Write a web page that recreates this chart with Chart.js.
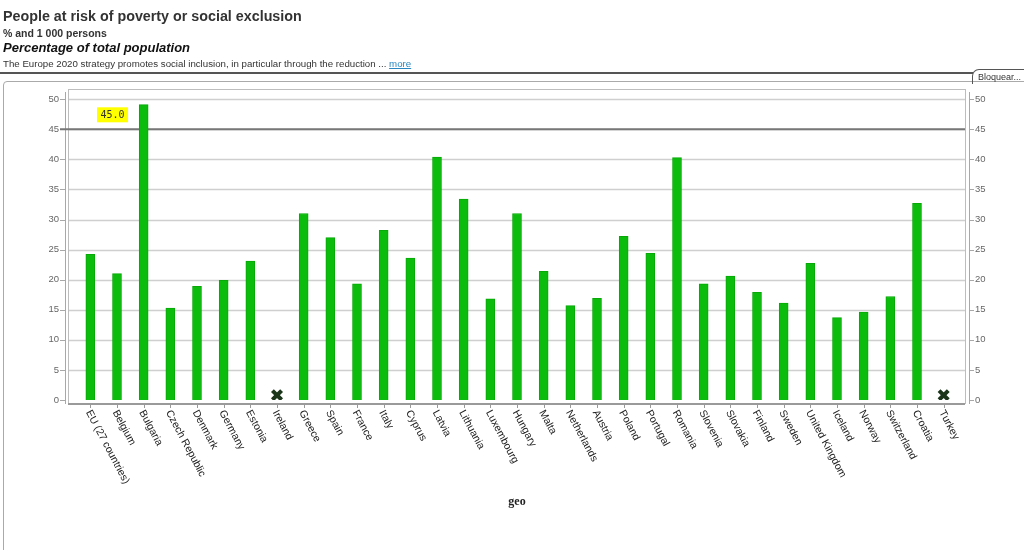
<!DOCTYPE html>
<html>
<head>
<meta charset="utf-8">
<title>People at risk of poverty or social exclusion</title>
<script src="https://cdn.jsdelivr.net/npm/chart.js@4/dist/chart.umd.min.js"></script>
<style>
  body { margin: 0; background: #fff; font-family: "Liberation Sans", Arial, sans-serif; color: #333; }
  #wrap { position: relative; width: 1024px; height: 550px; overflow: hidden; }
  #myChart { position: absolute; left: 0; top: 0; }
  .hd { position: absolute; left: 3px; white-space: nowrap; }
  #t1 { top: 8px; font-size: 14.3px; font-weight: bold; }
  #t2 { top: 27px; font-size: 10.5px; font-weight: bold; }
  #t3 { top: 40px; font-size: 13px; font-weight: bold; font-style: italic; color: #111; }
  #t4 { top: 58px; font-size: 9.7px; color: #333; }
  #t4 a { color: #2a86c0; text-decoration: underline; }
  #rule { position: absolute; left: 0; top: 72px; width: 973px; height: 2px; background: #555; }
  #tab { position: absolute; left: 972px; top: 69px; width: 60px; height: 14px; border: 1px solid #555;
         border-bottom: none; border-top-left-radius: 7px; font-size: 9px; padding-left: 5px; line-height: 14px; }
  #frame { position: absolute; left: 3px; top: 81px; width: 1040px; height: 500px; border: 1px solid #aaa; border-radius: 4px; }
</style>
</head>
<body>
<div id="wrap">
  <div id="frame"></div>
  <canvas id="myChart" width="1024" height="550"></canvas>
  <div class="hd" id="t1">People at risk of poverty or social exclusion</div>
  <div class="hd" id="t2">% and 1 000 persons</div>
  <div class="hd" id="t3">Percentage of total population</div>
  <div class="hd" id="t4">The Europe 2020 strategy promotes social inclusion, in particular through the reduction ... <a href="#">more</a></div>
  <div id="rule"></div>
  <div id="tab">Bloquear...</div>
</div>
<script>
const categories = ['EU (27 countries)', 'Belgium', 'Bulgaria', 'Czech Republic', 'Denmark', 'Germany',
  'Estonia', 'Ireland', 'Greece', 'Spain', 'France', 'Italy', 'Cyprus', 'Latvia', 'Lithuania',
  'Luxembourg', 'Hungary', 'Malta', 'Netherlands', 'Austria', 'Poland', 'Portugal', 'Romania',
  'Slovenia', 'Slovakia', 'Finland', 'Sweden', 'United Kingdom', 'Iceland', 'Norway',
  'Switzerland', 'Croatia', 'Turkey'];
// null = no data (drawn as a cross on the axis)
const values = [24.2, 21.0, 49.1, 15.3, 18.9, 19.9, 23.1, null, 31.0, 27.0, 19.3, 28.2, 23.6, 40.4,
  33.4, 16.8, 31.0, 21.4, 15.7, 16.9, 27.2, 24.4, 40.3, 19.3, 20.6, 17.9, 16.1, 22.7, 13.7, 14.6,
  17.2, 32.7, null];
const yTicks = [0, 5, 10, 15, 20, 25, 30, 35, 40, 45, 50];
const targetValue = 45;
const targetLabel = '45.0';
const yMax = 51.7;
const noDataMark = 0.8;

const noData = values.map(v => v === null ? noDataMark : null);

// grid, frame, target line and rotated labels
const framePlugin = {
  id: 'frame',
  beforeDatasetsDraw(chart) {
    const {ctx, chartArea: a, scales} = chart;
    const y = scales.y, x = scales.x;
    const boxL = a.left - 9, boxR = a.right + 8;
    const axL = a.left - 12, axR = a.right + 12;
    const bottom = a.bottom + 3;
    ctx.save();
    // gridlines
    ctx.strokeStyle = '#cfcfcf';
    ctx.lineWidth = 1.5;
    yTicks.forEach(v => {
      const py = Math.round(y.getPixelForValue(v)) + 0.5;
      if (v === 0) return;
      ctx.beginPath(); ctx.moveTo(boxL, py); ctx.lineTo(boxR, py); ctx.stroke();
    });
    // plot box
    ctx.strokeStyle = '#bdbdbd';
    ctx.lineWidth = 1;
    ctx.strokeRect(boxL + 0.5, a.top + 0.5, boxR - boxL, bottom - a.top);
    // axes lines + ticks
    ctx.strokeStyle = '#a8a8a8';
    ctx.beginPath();
    ctx.moveTo(axL + 0.5, a.top + 3); ctx.lineTo(axL + 0.5, bottom + 1);
    ctx.moveTo(axR + 0.5, a.top + 3); ctx.lineTo(axR + 0.5, bottom + 1);
    yTicks.forEach(v => {
      const py = Math.round(y.getPixelForValue(v)) + 0.5;
      ctx.moveTo(axL - 5, py); ctx.lineTo(axL, py);
      ctx.moveTo(axR + 1, py); ctx.lineTo(axR + 5, py);
    });
    ctx.stroke();
    ctx.strokeStyle = '#9a9a9a';
    ctx.lineWidth = 2;
    ctx.beginPath(); ctx.moveTo(boxL, bottom + 1); ctx.lineTo(boxR, bottom + 1); ctx.stroke();
    ctx.lineWidth = 1;
    ctx.beginPath();
    categories.forEach((c, i) => {
      const px = Math.round(x.getPixelForTick(i)) + 0.5;
      ctx.moveTo(px, bottom + 2); ctx.lineTo(px, bottom + 5);
    });
    ctx.stroke();
    // target line
    const ty = y.getPixelForValue(targetValue);
    ctx.strokeStyle = '#777';
    ctx.lineWidth = 2;
    ctx.beginPath(); ctx.moveTo(axL - 5, ty); ctx.lineTo(boxR, ty); ctx.stroke();
    ctx.fillStyle = '#ffff00';
    ctx.fillRect(a.left + 20, ty - 22, 31, 15);
    ctx.fillStyle = '#333';
    ctx.font = '10px "DejaVu Sans Mono", monospace';
    ctx.textAlign = 'center';
    ctx.textBaseline = 'middle';
    ctx.fillText(targetLabel, a.left + 35.5, ty - 14);
    ctx.restore();
  },
  afterDraw(chart) {
    const {ctx, chartArea: a, scales} = chart;
    ctx.save();
    ctx.fillStyle = '#222';
    ctx.font = '10.5px "Liberation Sans", Arial, sans-serif';
    ctx.textAlign = 'left';
    ctx.textBaseline = 'middle';
    categories.forEach((c, i) => {
      const px = scales.x.getPixelForTick(i);
      ctx.save();
      ctx.translate(px - 2, a.bottom + 11);
      ctx.rotate(62 * Math.PI / 180);
      ctx.fillText(c, 0, 0);
      ctx.restore();
    });
    ctx.font = 'bold 12px "Liberation Serif", serif';
    ctx.textAlign = 'center';
    ctx.fillText('geo', (a.left + a.right) / 2, 502);
    ctx.restore();
  }
};

let myChart;
const setup = () => {
  const ctxt = document.getElementById('myChart').getContext('2d');
  const tickFont = {family: '"Liberation Sans", Arial, sans-serif', size: 9.5};
  myChart = new Chart(ctxt, {
    type: 'bar',
    data: {
      labels: categories,
      datasets: [{
        label: 'Percentage of total population',
        data: values,
        backgroundColor: '#0cbc0c',
        borderColor: '#07a807',
        borderWidth: 1,
        barThickness: 9,
        order: 2
      }, {
        type: 'line',
        label: 'no data',
        data: noData,
        showLine: false,
        pointStyle: 'crossRot',
        pointRadius: 6.5,
        pointBorderWidth: 4,
        pointBorderColor: '#1a351a',
        order: 1
      }]
    },
    options: {
      responsive: false,
      animation: false,
      devicePixelRatio: 1,
      layout: {padding: {top: 89, left: 0, right: 0, bottom: 0}},
      plugins: {legend: {display: false}, tooltip: {enabled: false}},
      scales: {
        x: {
          grid: {display: false},
          border: {display: false},
          ticks: {display: false},
          afterFit: s => { s.height = 150; }
        },
        y: {
          position: 'left',
          min: 0, max: yMax,
          grid: {display: false, drawTicks: false},
          border: {display: false},
          ticks: {stepSize: 5, includeBounds: false, padding: 18, color: '#666', font: tickFont},
          afterFit: s => { s.width = 77; }
        },
        y2: {
          position: 'right',
          min: 0, max: yMax,
          grid: {display: false, drawTicks: false},
          border: {display: false},
          ticks: {stepSize: 5, includeBounds: false, padding: 18, color: '#666', font: tickFont},
          afterFit: s => { s.width = 67; }
        }
      }
    },
    plugins: [framePlugin]
  });
};

window.addEventListener('DOMContentLoaded', setup);
</script>
</body>
</html>
